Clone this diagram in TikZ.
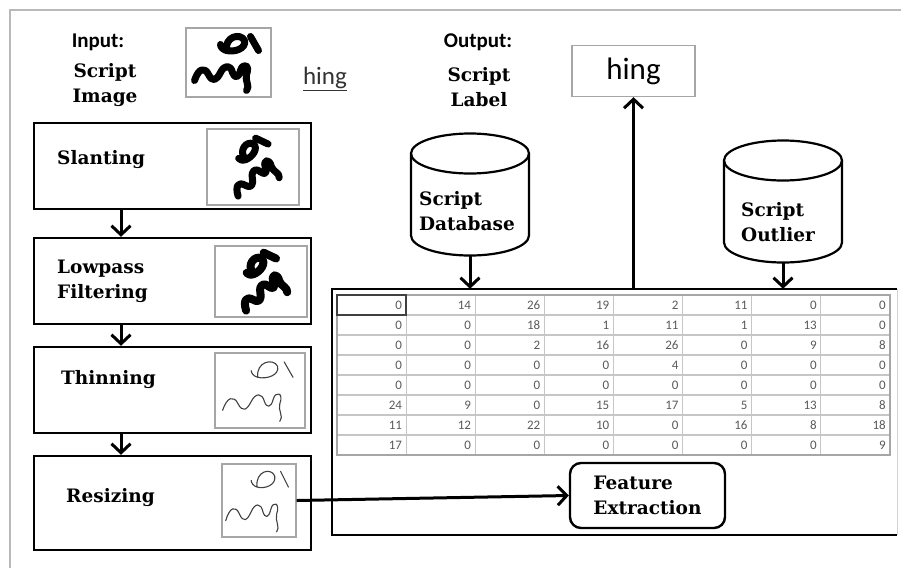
\documentclass[tikz,border=0pt]{standalone}
\usepackage{fontspec}
\setmainfont{DejaVu Serif}
\newfontfamily\carlito{Carlito}
\usetikzlibrary{positioning, arrows.meta, calc, shapes.geometric}

% 手書き文字（ループ・短い線・波線）
\tikzset{
    pics/scrawl/.style={code={
        % 上のループ
        \draw (-2,-12) .. controls (-4,-26) and (12,-30) .. (16,-22)
              .. controls (18,-14) and (6,-10) .. (-2,-12)
              .. controls (-6,-13) and (-8,-16) .. (-8,-18);
        % 右上の短い線
        \draw (22,-26) -- (30,-12);
        % 下の波線とフック
        \draw (-34,18) .. controls (-30,6) and (-24,4) .. (-20,12)
              .. controls (-16,20) and (-12,18) .. (-8,10)
              .. controls (-4,2) and (2,2) .. (4,10)
              .. controls (6,16) and (10,16) .. (12,8)
              .. controls (14,0) and (22,2) .. (18,12)
              .. controls (16,18) and (22,24) .. (18,28);
    }},
    % 円柱（ノードの枠に合わせて描く）
    pics/drum/.style={code={
        \draw [line width=2.2pt] (0,-41) ellipse [x radius=59pt, y radius=20pt];
        \draw [line width=2.2pt] (-59,-41) -- (-59,41)
              arc [start angle=180, end angle=360, x radius=59pt, y radius=20pt]
              -- (59,-41);
    }}
}

\begin{document}
\begin{tikzpicture}[
    x=1pt, y=-1pt,                        % 画素と同じ向きで座標を取る
    >={Straight Barb[length=9pt, width=19pt]},
    flow/.style={->, line width=3pt},
    serifbold/.style={font=\fontsize{18.5}{25}\selectfont\bfseries},
    sansbold/.style={font=\carlito\fontsize{21}{24}\selectfont\bfseries},
    stepbox/.style={draw, line width=2.4pt, minimum width=277pt, minimum height=86pt, inner sep=0pt},
    imgbox/.style={draw=gray!70, line width=1.3pt, inner sep=0pt},
    steptext/.style={serifbold, anchor=west, align=left, inner sep=0pt},
    thickink/.style={line width=7pt, line cap=round, line join=round},
    thinink/.style={line width=1.1pt, draw=black!75, line cap=round, line join=round},
    drumbox/.style={minimum width=118pt, minimum height=122pt, inner sep=0pt},
    cellnum/.style={anchor=east, inner sep=0pt, text=black!65,
                    font=\carlito\fontsize{13}{15}\selectfont},
    gridline/.style={draw=gray!45, line width=1.1pt}
]

    \useasboundingbox (0,0) rectangle (901,568);

    % --- 1. 外枠（灰色の線） ---
    \draw [gray!55, line width=2pt] (10,568) -- (10,10) -- (901,10);

    % --- 2. 入力 ---
    \node [sansbold] (input_head) at (98,42) {Input:};
    \node [serifbold, align=center] (input_name) at (105,85) {Script\\Image};
    \node [imgbox, minimum width=85pt, minimum height=69pt] (input_img) at (228.5,62.5) {};
    \pic [thickink] at (input_img.center) {scrawl};
    \node [font=\carlito\fontsize{25}{27}\selectfont, text=black!80] (input_word) at (325,79)
        {\underline{hing}};

    % --- 3. 左側の前処理ブロック ---
    \node [stepbox] (slant_box)  at (172.5,166) {};
    \node [stepbox] (lowpass_box) at (172.5,281) {};
    \node [stepbox] (thin_box)   at (172.5,390) {};
    \node [stepbox, minimum height=94pt] (resize_box) at (172.5,503) {};

    \node [steptext] (slant_text)   at (57,160) {Slanting};
    \node [steptext] (lowpass_text) at (57,281) {Lowpass\\Filtering};
    \node [steptext] (thin_text)    at (61,380) {Thinning};
    \node [steptext] (resize_text)  at (66,498) {Resizing};

    \node [imgbox, minimum width=92pt, minimum height=76pt] (slant_img)   at (253,167) {};
    \node [imgbox, minimum width=92pt, minimum height=71pt] (lowpass_img) at (261,281.5) {};
    \node [imgbox, minimum width=90pt, minimum height=75pt] (thin_img)    at (260,390.5) {};
    \node [imgbox, minimum width=74pt, minimum height=73pt] (resize_img)  at (259,500.5) {};

    \pic [thickink, rotate=35, scale=0.85] at (slant_img.center) {scrawl};
    \pic [thickink, line width=8pt, rotate=35, scale=0.85] at (lowpass_img.center) {scrawl};
    \pic [thinink, scale=1.1] at (thin_img.center) {scrawl};
    \pic [thinink, xscale=0.98, yscale=1.12] at (resize_img.center) {scrawl};

    % 縦の矢印（左の列）
    \coordinate (flow_x) at (121,0);
    \draw [flow] (slant_box.south -| flow_x)   -- (lowpass_box.north -| flow_x);
    \draw [flow] (lowpass_box.south -| flow_x) -- (thin_box.north -| flow_x);
    \draw [flow] (thin_box.south -| flow_x)    -- (resize_box.north -| flow_x);

    % --- 4. 出力 ---
    \node [sansbold] (output_head) at (478,42) {Output:};
    \node [serifbold, align=center] (output_name) at (479,87) {Script\\Label};
    \node [draw=gray!70, line width=1.3pt, minimum width=123pt, minimum height=51pt,
           font=\carlito\fontsize{31}{33}\selectfont] (hing_box) at (633.5,71) {hing};

    % --- 5. データベース（円柱） ---
    \node [drumbox] (db_cyl) at (470,194.5) {};
    \pic at (db_cyl.center) {drum};
    \node [serifbold, align=left] (db_text) at (467,211) {Script\\Database};
    \node [drumbox] (outlier_cyl) at (783,201.5) {};
    \pic at (outlier_cyl.center) {drum};
    \node [serifbold, align=left] (outlier_text) at (778,222) {Script\\Outlier};

    % --- 6. 特徴量の表 ---
    \node [minimum width=565pt, minimum height=246pt, inner sep=0pt] (mat_box) at (614.5,412) {};
    \draw [line width=2.4pt] (mat_box.north east) -- (mat_box.north west)
        -- (mat_box.south west) -- (mat_box.south east);
    \draw [gray!35, line width=1.2pt] (mat_box.north east) -- (mat_box.south east);

    \foreach \i in {1,...,7}
        \draw [gridline] (337+69.125*\i,295) -- ++(0,160);
    \foreach \j in {1,...,7}
        \draw [gridline] (337,295+20*\j) -- ++(553,0);
    \draw [draw=gray!70, line width=1.3pt] (337,295) rectangle (890,455);
    \draw [draw=black!75, line width=1.6pt] (337,295) rectangle ++(69.125,20);

    \foreach \row [count=\r] in {
        {0,14,26,19,2,11,0,0},
        {0,0,18,1,11,1,13,0},
        {0,0,2,16,26,0,9,8},
        {0,0,0,0,4,0,0,0},
        {0,0,0,0,0,0,0,0},
        {24,9,0,15,17,5,13,8},
        {11,12,22,10,0,16,8,18},
        {17,0,0,0,0,0,0,9}}
    {
        \foreach \val [count=\c] in \row
            \node [cellnum] (cell_\r_\c) at (333+69.125*\c,305+20*\r-20) {\val};
    }

    \node [draw, line width=2.4pt, rounded corners=11pt, minimum width=155pt,
           minimum height=65pt, serifbold, align=left] (feat_box) at (647.5,495.5)
        {Feature\\Extraction};

    % --- 7. 矢印 ---
    \draw [flow] (db_cyl.south) -- (db_cyl.south |- mat_box.north);
    \draw [flow] (outlier_cyl.south) -- (outlier_cyl.south |- mat_box.north);
    \draw [flow] (hing_box.south |- mat_box.north) -- (hing_box.south);
    \draw [flow] (resize_img.east) -- (feat_box.west);

\end{tikzpicture}
\end{document}
